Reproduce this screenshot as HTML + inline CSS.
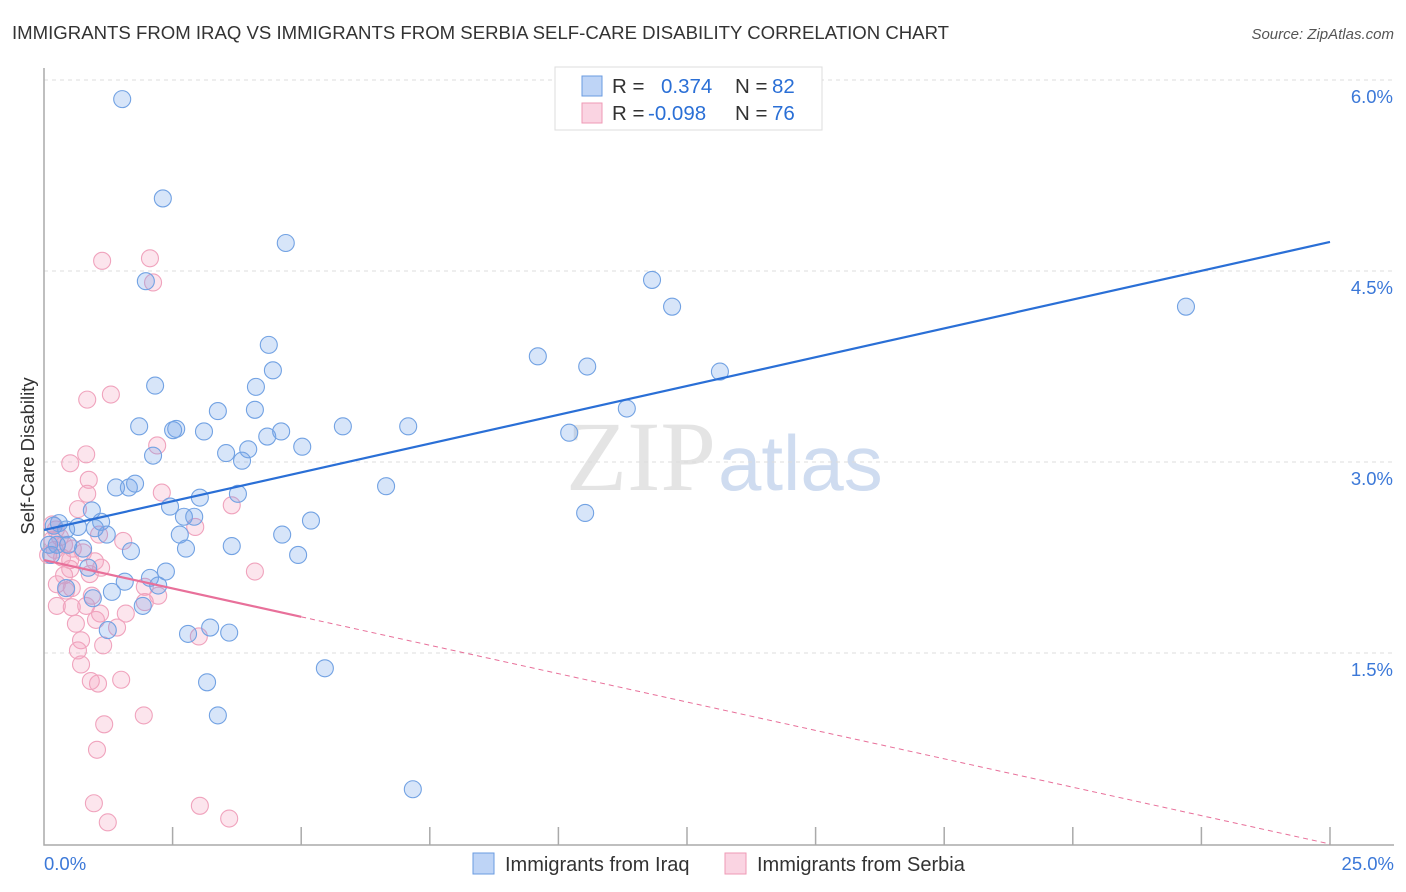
<!DOCTYPE html>
<html><head><meta charset="utf-8"><style>
body{margin:0;background:#fff;font-family:"Liberation Sans",sans-serif}
svg{display:block}
</style></head><body>
<svg id="chart" width="1406" height="892">
<text x="12" y="39" font-size="18.6" fill="#333">IMMIGRANTS FROM IRAQ VS IMMIGRANTS FROM SERBIA SELF-CARE DISABILITY CORRELATION CHART</text>
<text x="1394" y="39" font-size="15" fill="#555" font-style="italic" text-anchor="end">Source: ZipAtlas.com</text>
<text x="716" y="490" font-size="100" fill="#e4e4e4" text-anchor="end" font-family="Liberation Serif">ZIP</text>
<text x="718" y="490" font-size="78" fill="#cfdcf0">atlas</text>
<g id="grid"></g><g id="axes"></g><g id="pts"></g><g id="lines"></g>
<text transform="translate(34,456) rotate(-90)" font-size="18.5" fill="#333" text-anchor="middle">Self-Care Disability</text>
<g>
<rect x="555" y="67" width="267" height="63" fill="#fff" stroke="#ddd"/>
<rect x="582" y="76" width="20" height="20" fill="rgba(110,160,235,0.45)" stroke="#6a9be0"/>
<rect x="582" y="103" width="20" height="20" fill="rgba(245,160,190,0.45)" stroke="#ef9ab5"/>
<text x="612" y="93" font-size="20.5" fill="#333">R = </text><text x="661" y="93" font-size="20.5" fill="#2a6fd6">0.374</text>
<text x="735" y="93" font-size="20.5" fill="#333">N = </text><text x="772" y="93" font-size="20.5" fill="#2a6fd6">82</text>
<text x="612" y="120" font-size="20.5" fill="#333">R = </text><text x="648" y="120" font-size="20.5" fill="#2a6fd6">-0.098</text>
<text x="735" y="120" font-size="20.5" fill="#333">N = </text><text x="772" y="120" font-size="20.5" fill="#2a6fd6">76</text>
</g>
<g>
<rect x="473" y="853" width="21" height="21" fill="rgba(110,160,235,0.45)" stroke="#6a9be0"/>
<text x="505" y="871" font-size="20" fill="#333">Immigrants from Iraq</text>
<rect x="725" y="853" width="21" height="21" fill="rgba(245,160,190,0.45)" stroke="#ef9ab5"/>
<text x="757" y="871" font-size="20" fill="#333">Immigrants from Serbia</text>
</g>
</svg>
<script>
const xTicks=[0,2.5,5,7.5,10,12.5,15,17.5,20,22.5,25];
const yTicks=[1.5,3.0,4.5,6.0];
const yTickLabels=["1.5%","3.0%","4.5%","6.0%"];
const iraqX=[1.52,2.31,4.70,11.82,12.21,22.20,1.98,4.37,9.60,10.56,2.16,4.12,4.45,13.14,11.33,3.38,4.10,1.85,2.57,2.51,3.11,4.34,4.61,5.81,7.08,10.21,5.02,3.97,3.54,2.12,3.85,6.65,1.40,1.65,1.77,3.77,3.03,2.45,0.93,2.72,2.92,5.19,10.52,0.29,1.11,0.66,0.19,0.43,0.99,1.22,2.64,4.63,0.10,0.25,0.47,0.76,1.69,2.76,3.65,4.94,0.14,0.86,2.37,2.06,1.57,1.32,2.22,0.43,1.92,0.95,1.24,2.80,3.23,3.60,5.46,3.17,3.38,7.17];
const iraqY=[5.85,5.07,4.72,4.43,4.22,4.22,4.42,3.92,3.83,3.75,3.60,3.59,3.72,3.71,3.42,3.40,3.41,3.28,3.26,3.25,3.24,3.20,3.24,3.28,3.28,3.23,3.12,3.10,3.07,3.05,3.01,2.81,2.80,2.80,2.83,2.75,2.72,2.65,2.62,2.57,2.57,2.54,2.60,2.52,2.53,2.49,2.50,2.47,2.48,2.43,2.43,2.43,2.35,2.35,2.35,2.32,2.30,2.32,2.34,2.27,2.27,2.17,2.14,2.09,2.06,1.98,2.03,2.01,1.87,1.93,1.68,1.65,1.70,1.66,1.38,1.27,1.01,0.43];
const serbiaX=[1.13,2.06,2.12,0.84,1.30,2.20,0.82,0.51,0.87,2.29,0.84,3.65,0.66,2.94,1.07,1.54,0.16,0.23,0.31,0.39,0.21,0.08,0.35,0.51,0.16,0.56,0.76,0.51,0.39,0.89,1.11,0.99,4.10,0.25,0.54,0.43,1.96,2.22,0.93,0.54,0.82,0.25,1.09,1.59,1.01,1.42,0.62,1.96,3.01,0.72,1.15,0.66,0.72,0.91,1.05,1.50,1.17,1.94,1.03,0.97,1.24,3.03,3.60];
const serbiaY=[4.58,4.60,4.41,3.49,3.53,3.13,3.06,2.99,2.86,2.76,2.75,2.66,2.63,2.49,2.43,2.38,2.51,2.47,2.41,2.35,2.31,2.27,2.25,2.23,2.39,2.32,2.29,2.16,2.11,2.12,2.17,2.22,2.14,2.04,2.01,1.99,2.02,1.95,1.95,1.86,1.87,1.87,1.81,1.81,1.76,1.70,1.73,1.90,1.63,1.60,1.56,1.52,1.41,1.28,1.26,1.29,0.94,1.01,0.74,0.32,0.17,0.30,0.20];
const iraqTrend=[2.466,4.728];
const serbiaTrend=[2.23,0];
const serbiaSolidEnd=5.0;
const X=v=>44+v/25*1286, Y=v=>844-v*127.33;
const NS="http://www.w3.org/2000/svg";
function mk(parent,tag,attrs){const e=document.createElementNS(NS,tag);for(const k in attrs)e.setAttribute(k,attrs[k]);document.getElementById(parent).appendChild(e);return e;}
yTicks.forEach((t,i)=>{
 const g=mk('grid','line',{x1:44,x2:1394,y1:Y(t),y2:Y(t),stroke:'#dcdcdc','stroke-dasharray':'4,4'});
 
 
 const l=mk('axes','text',{x:1393,y:Y(t)+23,'font-size':18.5,fill:'#3b78d8','text-anchor':'end'});l.textContent=yTickLabels[i];
 
 
});
const ax=mk('axes','path',{d:`M44,68V845H1394`,stroke:'#aaa',fill:'none','stroke-width':1.5});


xTicks.slice(1).forEach(t=>{const k=mk('axes','line',{x1:X(t),x2:X(t),y1:827,y2:845,stroke:'#aaa','stroke-width':1.5});
 
 });
const xl=mk('axes','text',{x:44,y:870,'font-size':18.5,fill:'#3b78d8'});xl.textContent='0.0%';


const xr=mk('axes','text',{x:1394,y:870,'font-size':18.5,fill:'#3b78d8','text-anchor':'end'});xr.textContent='25.0%';


serbiaX.forEach((v,i)=>{const c=mk('pts','circle',{cx:X(v),cy:Y(serbiaY[i]),r:8.5,fill:'rgba(245,160,190,0.28)',stroke:'#f0a3bd','stroke-width':1.1});
 
 });
iraqX.forEach((v,i)=>{const c=mk('pts','circle',{cx:X(v),cy:Y(iraqY[i]),r:8.5,fill:'rgba(110,160,235,0.28)',stroke:'#72a2e3','stroke-width':1.1});
 
 });
const bl=mk('lines','line',{x1:X(0),y1:Y(iraqTrend[0]),x2:X(25),y2:Y(iraqTrend[1]),stroke:'#2a6fd6','stroke-width':2.2});


const sAt=x=>serbiaTrend[0]+(serbiaTrend[1]-serbiaTrend[0])*x/25;
const pl=mk('lines','line',{x1:X(0),y1:Y(sAt(0)),x2:X(serbiaSolidEnd),y2:Y(sAt(serbiaSolidEnd)),stroke:'#e8709a','stroke-width':2.2});


const pd=mk('lines','line',{x1:X(serbiaSolidEnd),y1:Y(sAt(serbiaSolidEnd)),x2:X(25),y2:Y(sAt(25)),stroke:'#e8709a','stroke-width':1,'stroke-dasharray':'5,4'});


</script>
</body></html>
